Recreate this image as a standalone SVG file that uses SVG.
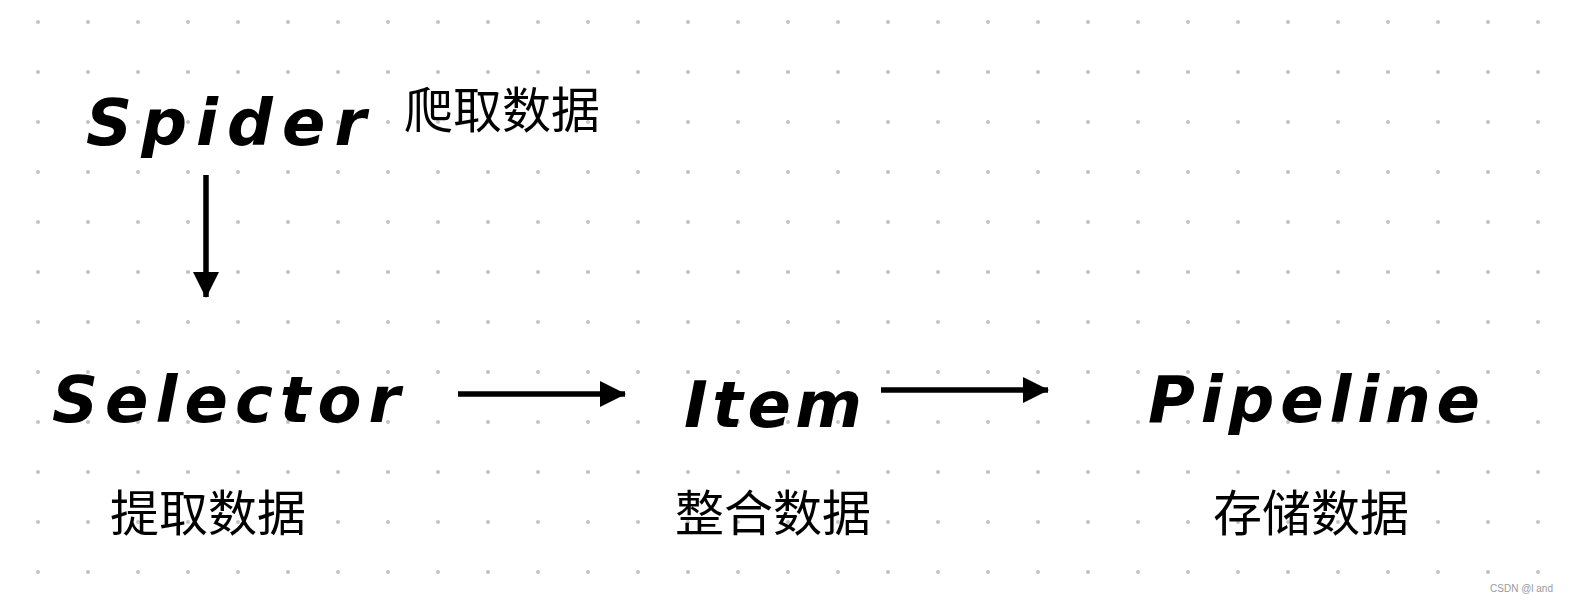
<svg xmlns="http://www.w3.org/2000/svg" width="1576" height="604" viewBox="0 0 1576 604">
<defs>
<pattern id="dots" x="0" y="0" width="50" height="50" patternUnits="userSpaceOnUse">
<circle cx="38" cy="22" r="2" fill="#c2c2c2"/>
</pattern>
<marker id="ah" markerWidth="26" markerHeight="26" viewBox="0 0 26 26" refX="25" refY="13" orient="auto" markerUnits="userSpaceOnUse">
<path d="M0,0 L26,13 L0,26 Z" fill="#000"/>
</marker>
<style>
.en{font-family:"DejaVu Sans","Liberation Sans",sans-serif;font-style:italic;font-weight:bold;font-size:64px;fill:#000}
.cn{font-family:"Noto Sans CJK SC","Noto Sans",sans-serif;font-size:49px;fill:#000}
.edge{stroke:#000;stroke-width:5.5;fill:none;marker-end:url(#ah)}
</style>
</defs>
<rect width="1576" height="604" fill="#fff"/>
<rect width="1576" height="604" fill="url(#dots)"/>
<g id="connectors">
<line class="edge" x1="206" y1="175" x2="206" y2="297"/>
<line class="edge" x1="458" y1="394" x2="625" y2="394"/>
<line class="edge" x1="881" y1="390" x2="1048" y2="390"/>
</g>
<g id="spider">
<text class="en" x="86" y="145" textLength="280" lengthAdjust="spacing">Spider</text>
<text class="cn" x="404" y="128">爬取数据</text>
</g>
<g id="selector">
<text class="en" x="52" y="422" textLength="348" lengthAdjust="spacing">Selector</text>
<text class="cn" x="110" y="531">提取数据</text>
</g>
<g id="item">
<text class="en" x="684" y="427" textLength="178" lengthAdjust="spacing">Item</text>
<text class="cn" x="675" y="531">整合数据</text>
</g>
<g id="pipeline">
<text class="en" x="1148" y="422" textLength="332" lengthAdjust="spacing">Pipeline</text>
<text class="cn" x="1213" y="531">存储数据</text>
</g>
<text x="1553" y="592" text-anchor="end" font-family="Liberation Sans, sans-serif" font-size="10" fill="#999">CSDN @l and</text>
</svg>
